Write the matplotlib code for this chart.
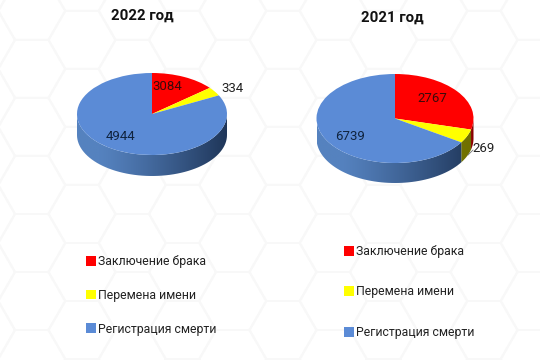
import numpy as np
import matplotlib
matplotlib.use("Agg")
import matplotlib.pyplot as plt
from matplotlib.patches import Polygon
from matplotlib.collections import LineCollection

plt.rcParams['font.family'] = ['Roboto', 'Lato', 'DejaVu Sans']

categories = ['Заключение брака', 'Перемена имени', 'Регистрация смерти']
colors = ['#ff0000', '#ffff00', '#5b8bd6']
side_dark = ['#8a0000', '#6f6f00', '#1f3659']
side_light = ['#b00000', '#9a9a10', '#5582bf']

titles = ['2022 год', '2021 год']
labels_2022 = [3084, 334, 4944]
labels_2021 = [2767, 269, 6739]
# slice sizes as drawn in the picture (they differ from the printed numbers)
drawn_2022 = [14.0, 3.5, 82.5]
drawn_2021 = [29.0, 5.0, 66.0]

W, H = 540, 360
fig = plt.figure(figsize=(W / 100, H / 100), dpi=100, facecolor='white')
bg = fig.add_axes([0, 0, 1, 1], zorder=0)
bg.set_axis_off()

# faint hexagon background
s = 33.5
hh = s * np.sqrt(3) / 2
segs = []
for i in range(-8, 10):
    for j in range(-6, 10):
        cx = 283 + i * 1.5 * s
        cy = 272 + j * 2 * hh + (hh if i % 2 else 0)
        a = np.deg2rad(np.arange(0, 361, 60))
        segs.append(np.c_[cx + s * np.cos(a), cy + s * np.sin(a)])
bg.add_collection(LineCollection(segs, colors='#f8f8f8', linewidths=1.4))


def draw_pie(drawn, printed, title, tx, ty, cx, cy, rx, ry, depth, label_xy, legend_xy, spacing):
    drawn = np.asarray(drawn, float)
    edges = 90 - np.r_[0, np.cumsum(drawn)] / drawn.sum() * 360
    for k in range(len(drawn)):
        a1, a2 = edges[k], edges[k + 1]
        lo, hi = max(a2, -180), min(a1, 0)
        if hi <= lo:
            continue
        t = np.deg2rad(np.linspace(hi, lo, 60))
        x = cx + rx * np.cos(t)
        y = cy - ry * np.sin(t)
        poly = np.r_[np.c_[x, y], np.c_[x, y + depth][::-1]]
        patch = Polygon(poly, closed=True, transform=bg.transData, fc='none', ec='none')
        bg.add_patch(patch)
        grad = np.linspace(0, 1, 256)[None, :, None]
        c0 = np.array(matplotlib.colors.to_rgb(side_light[k]))
        c1 = np.array(matplotlib.colors.to_rgb(side_dark[k]))
        ramp = np.clip((grad - 0.15) / 0.85, 0, 1) ** 1.2 if k == 2 else grad
        img = c0 + (c1 - c0) * ramp
        im = bg.imshow(img, extent=[cx - rx, cx + rx, cy + ry + depth, cy - ry],
                       aspect='auto', zorder=2)
        im.set_clip_path(patch)
    ax = fig.add_axes([(cx - rx) / W, 1 - (cy + ry) / H, 2 * rx / W, 2 * ry / H], zorder=2)
    wedges, _ = ax.pie(drawn, colors=colors, startangle=90, counterclock=False, radius=1,
                       wedgeprops=dict(linewidth=0))
    ax.set_aspect('auto')
    ax.set_xlim(-1, 1)
    ax.set_ylim(-1, 1)
    ax.patch.set_alpha(0)
    fig.text(tx / W, 1 - ty / H, title, ha='center', va='center', fontsize=10.8,
             fontweight='bold', color='#111111', zorder=5)
    for (lx, ly), v, col in zip(label_xy, printed, ['#3a0a0a', '#222222', '#10243f']):
        fig.text(lx / W, 1 - ly / H, str(v), ha='center', va='center', fontsize=9.5,
                 color=col, zorder=5)
    ax.legend(wedges, categories, loc='upper left',
              bbox_to_anchor=(legend_xy[0] / W, 1 - legend_xy[1] / H),
              bbox_transform=fig.transFigure, frameon=False, fontsize=8.8,
              handlelength=0.85, handleheight=0.85, handletextpad=0.1,
              labelspacing=spacing, borderpad=0, borderaxespad=0, labelcolor='#222222')
    return ax


draw_pie(drawn_2022, labels_2022, titles[0], 142, 16, 152, 114, 75, 41, 21,
         [(167, 86), (232, 89), (120, 137)], (86, 255), 1.7)
draw_pie(drawn_2021, labels_2021, titles[1], 392, 18, 395, 118.5, 78.5, 44.5, 20,
         [(432, 98), (484, 149), (350, 137)], (344, 245), 2.25)

bg.plot([468, 473], [155, 150], color='#777777', lw=0.6, zorder=3)
bg.set_xlim(0, W)
bg.set_ylim(H, 0)

fig.savefig('out.png', dpi=100)
